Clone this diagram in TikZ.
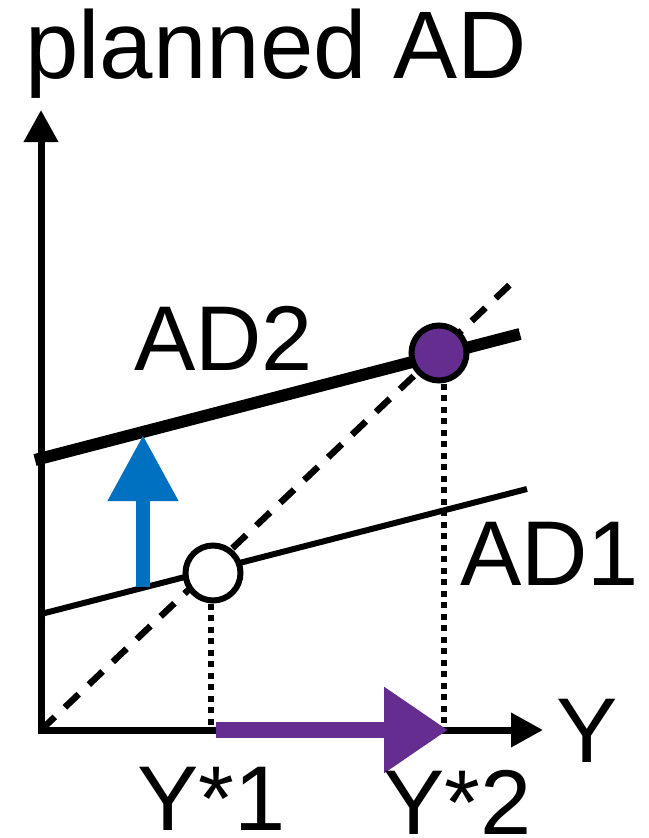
\documentclass[tikz,border=0pt]{standalone}
\usepackage{fontspec}
\setmainfont{Liberation Sans}
\usetikzlibrary{arrows.meta}
\definecolor{adpurple}{HTML}{662D91}
\definecolor{adblue}{HTML}{0070C0}
\begin{document}
\begin{tikzpicture}[x=1pt,y=-1pt,
  lbl/.style={inner sep=0pt,anchor=base west,font=\fontsize{92}{96}\selectfont},
  axisline/.style={line width=7pt,-{Triangle[length=32pt,width=33pt]}},
  dottedline/.style={line width=6pt,dash pattern=on 6pt off 5.5pt},
  eqpt/.style={circle,draw=black,line width=6pt,minimum size=55pt,inner sep=0pt}]
\useasboundingbox (0,0) rectangle (648,838);
% coordinates
\coordinate (O) at (41,730);
\coordinate (ytop) at (41,110);
\coordinate (xend) at (543,730);
\coordinate (diagend) at (518,277);
\coordinate (ad1a) at (41,614);
\coordinate (ad1b) at (527,489);
\coordinate (ad2a) at (35,460);
\coordinate (ad2b) at (520,334);
\coordinate (y1) at (211,730);
\coordinate (y2) at (444,730);
% axes
\draw[axisline] ([yshift=3.5pt]O) -- (ytop);
\draw[axisline] ([xshift=-3.5pt]O) -- (xend);
% 45 degree line
\draw[line width=6.5pt,dash pattern=on 19pt off 14pt] (O) -- (diagend);
% AD lines
\draw[line width=6pt] (ad1a) -- (ad1b);
\draw[line width=12pt] (ad2a) -- (ad2b);
% equilibrium points
\node[eqpt,fill=white] (e1) at (213,573) {};
\node[eqpt,fill=adpurple] (e2) at (439,353) {};
% dotted drop lines
\draw[dottedline] (e1.south -| y1) -- (y1);
\draw[dottedline] (e2.south -| y2) -- (y2);
% shift arrows
\coordinate (bluebot) at (143,587);
\coordinate (bluetop) at (143,435);
\draw[adblue,line width=14pt,-{Triangle[length=66pt,width=67pt]}] (bluebot) -- (bluetop);
\coordinate (purpstart) at (216,730);
\coordinate (purpend) at (448,730);
\draw[adpurple,line width=16pt,-{Triangle[length=64pt,width=82pt]}] (purpstart) -- (purpend);
% labels
\node[lbl,font=\fontsize{96}{100}\selectfont] (title) at (25,78) {planned AD};
\node[lbl] (lad2) at (134,370) {AD2};
\node[lbl] (lad1) at (460,585) {AD1};
\node[lbl] (ly) at (556,762) {Y};
\node[lbl] (ly1) at (137,830) {Y*1};
\node[lbl] (ly2) at (383,834) {Y*2};
\end{tikzpicture}
\end{document}
